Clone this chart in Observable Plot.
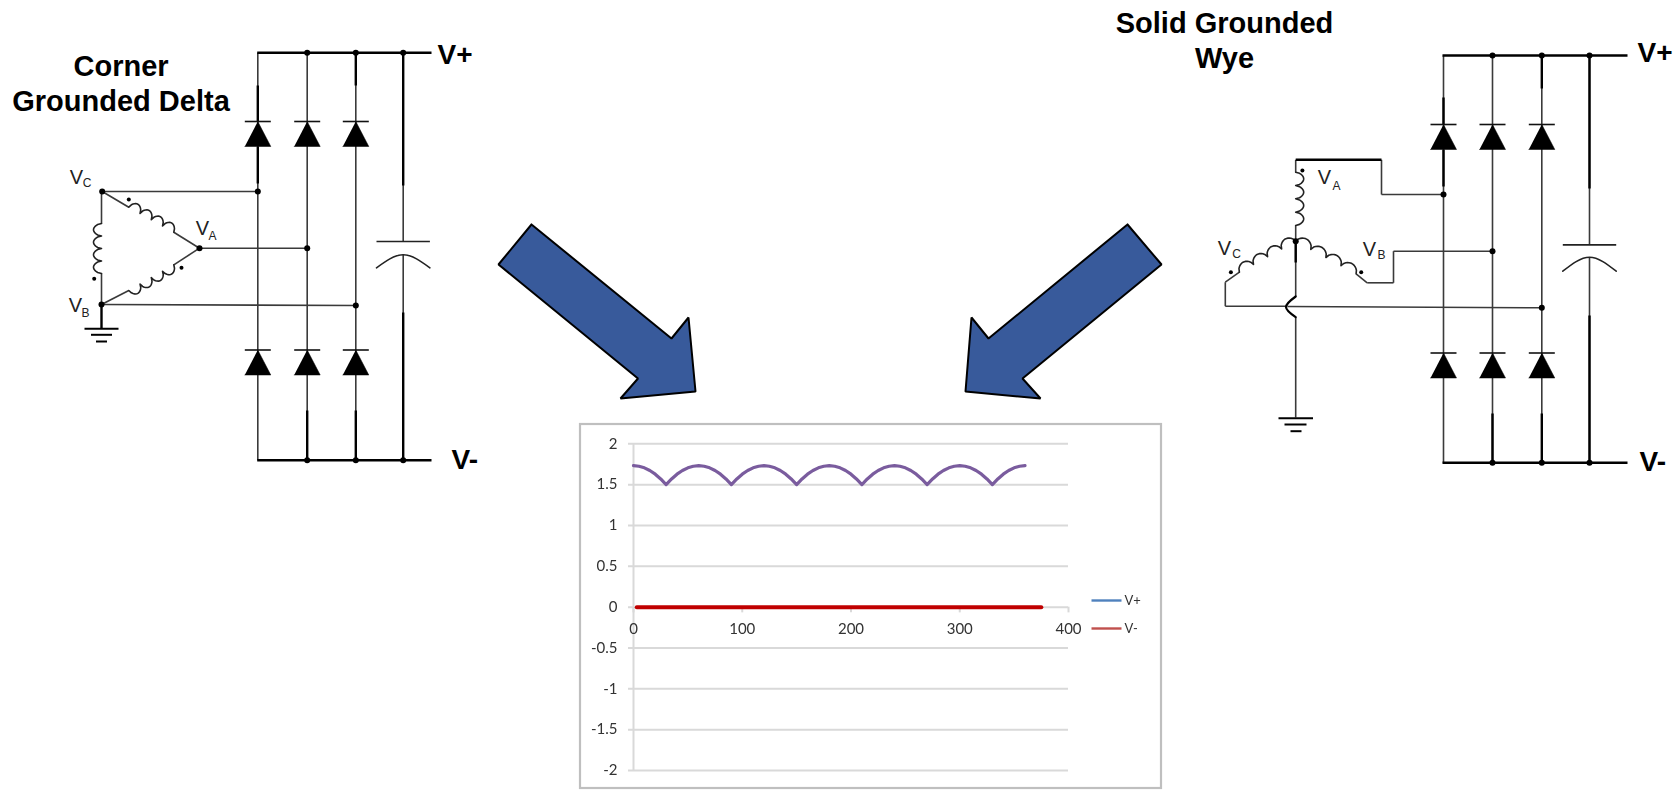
<!DOCTYPE html>
<html><head><meta charset="utf-8">
<script src="https://cdn.jsdelivr.net/npm/d3@7"></script>
<script src="https://cdn.jsdelivr.net/npm/@observablehq/plot@0.6"></script>
<style>
html,body{margin:0;padding:0;background:#fff;width:1675px;height:792px;overflow:hidden}
#page{position:relative;width:1675px;height:792px}
#page svg{position:absolute;left:0;top:0;background:transparent}
.soft{filter:blur(.55px)}
.faint{filter:blur(.3px)}
</style></head><body><div id="page"></div>
<script>
// ---------- chart values ----------
const xTicks = [0,100,200,300,400];
const yTicks = [-2,-1.5,-1,-0.5,0,0.5,1,1.5,2];
const angle = [0,5,10,15,20,25,30,35,40,45,50,55,60,65,70,75,80,85,90,95,100,105,110,115,120,125,130,135,140,145,150,155,160,165,170,175,180,185,190,195,200,205,210,215,220,225,230,235,240,245,250,255,260,265,270,275,280,285,290,295,300,305,310,315,320,325,330,335,340,345,350,355,360];
const vPeak = [1.732,1.725,1.706,1.673,1.628,1.57,1.5,1.57,1.628,1.673,1.706,1.725,1.732,1.725,1.706,1.673,1.628,1.57,1.5,1.57,1.628,1.673,1.706,1.725,1.732,1.725,1.706,1.673,1.628,1.57,1.5,1.57,1.628,1.673,1.706,1.725,1.732,1.725,1.706,1.673,1.628,1.57,1.5,1.57,1.628,1.673,1.706,1.725,1.732,1.725,1.706,1.673,1.628,1.57,1.5,1.57,1.628,1.673,1.706,1.725,1.732,1.725,1.706,1.673,1.628,1.57,1.5,1.57,1.628,1.673,1.706,1.725,1.732];
const vMinusX = [3,375];
const vMinusY = [0,0];
const legendNames = ["V+","V-"];
const legendColors = ["#4f81bd","#c0504d"];
const curveColor = "#7a5c9e", zeroColor = "#c00000", gridColor = "#d9d9d9";

// ---------- schematic geometry (page units) ----------
const thinWires = [
 // corner grounded delta
 [257.3,52.3,257.3,459.7],[306.7,52.3,306.7,459.7],[355.3,52.3,355.3,459.7],
 [402.7,52.3,402.7,241],[402.7,254.3,402.7,459.7],
 [101.7,191,257.3,191],[199,247.7,306.7,247.7],[101,304,355.3,305],
 [101,191,101,223],[101,273,101,304],
 [101.7,191,128.3,206.7],[173.3,231.7,199,247.7],[199,247.7,173.3,264.3],[128.3,290,101,304],
 // solid grounded wye
 [1443,55,1443,462.3],[1492,55,1492,462.3],[1541.3,55,1541.3,462.3],
 [1589,55,1589,244.3],[1589,256.7,1589,462.3],
 [1295.2,159.3,1295.2,171.7],[1295.2,225,1295.2,296],[1295.2,316.7,1295.2,417],
 [1381,159.3,1381,194],[1381,194,1443,194],
 [1238.9,271.7,1224.8,281.7],[1224.8,281.7,1224.8,305.7],[1224.8,305.7,1285,305.7],[1287,306,1541.3,307.3],
 [1355.6,273.3,1366.7,282.3],[1366.7,282.3,1393,282.3],[1393,282.3,1393,250.7],[1393,250.7,1492,250.7]
];
const boldWires = [
 [256.7,52.3,431,52.3],[256.7,459.7,431,459.7],
 [257.3,85,257.3,121],[257.3,146,257.3,183],[355.3,52.3,355.3,85],
 [306.7,410,306.7,459.7],[355.3,410,355.3,459.7],[402.7,52.3,402.7,185],[402.7,312,402.7,459.7],
 [101,304,101,328],
 [1442,55,1627,55],[1442,462.3,1627,462.3],
 [1443,97,1443,124],[1443,149,1443,186],[1541.3,55,1541.3,88],
 [1492,413,1492,462.3],[1541.3,413,1541.3,462.3],[1589,55,1589,188],[1589,315,1589,462.3],
 [1295.2,159.3,1381,159.3],[1295.2,240,1295.2,262]
];
const nodes = [[306.7,52.3],[355.3,52.3],[402.7,52.3],[306.7,459.7],[355.3,459.7],[402.7,459.7],
 [101.7,191],[257.3,191],[199,247.7],[306.7,247.7],[101,304],[355.3,305],
 [1492,55],[1541.3,55],[1589,55],[1492,462.3],[1541.3,462.3],[1589,462.3],
 [1443,194],[1492,250.7],[1541.3,307.3],[1295.2,240.7]];
const polarityDots = [[128.3,199],[181,267.3],[93.7,278.3],[1301.9,170],[1230.4,271.7],[1360.7,271.7]];
const diodeSpots = [[257.3,121],[306.7,121],[355.3,121],[257.3,349.5],[306.7,349.5],[355.3,349.5],
 [1443,124],[1492,124],[1541.3,124],[1443,352.5],[1492,352.5],[1541.3,352.5]];
const groundBars = [[84,118,328.3],[90.5,111.5,334.3],[95.5,106.5,341],
 [1278,1312.5,417.7],[1284,1306,424],[1290,1301,430.7]];
const capPlates = [[376,429.4,241],[1562.3,1615.7,244.3]];
const capArcs = [[[376,267.3],[402.7,254.3],[429.4,267.3]],[[1562.3,270.7],[1589,256.7],[1615.7,270.7]]];
const hopArc = [[1295.2,296],[1285.5,306.5],[1295.2,316.7]];
// [x1,y1,x2,y2,lobes,bulge]
const coils = [
 [101,223,101,273,4,-8],
 [128.3,206.7,173.3,231.7,4,7],
 [173.3,264.3,128.3,290,4,7],
 [1295.2,171.7,1295.2,225,4,8],
 [1295.2,240.7,1238.9,271.7,4,-7],
 [1295.2,240.7,1355.6,273.3,4,7]
];
const arrowLeft = [[531,224],[498,264],[637.5,378],[620,398],[695,391],[688,317],[671,338],[531,224]];
const arrowRight = [[1127,224],[1161,264],[1022,378],[1040,398],[965,391],[971,317],[988,338],[1127,224]];
const chartFrame = [[580,424,1161,788]];
const legendSwatches = [[1091,1121,600],[1091,1121,628]];
const legendLabels = [[1124,600],[1124,628]];

const titles = [["Corner",120.5,66],["Grounded Delta",120.5,101],["Solid Grounded",1224,23],["Wye",1224,58]];
const railLabels = [["V+",437,55],["V-",451,460],["V+",1637,53],["V-",1639,462]];
const phaseV = [[76,177],[202,228],[75,305],[1324,177],[1369,249],[1224,248]];
const phaseSub = [["C",86.5,183],["A",212,236],["B",85,313],["A",1336,186],["B",1381,255],["C",1236,254]];

// ---------- small helpers for drawn symbols ----------
const coilPts = coils.flatMap(([x1,y1,x2,y2,n,b],id) => {
  const dx=x2-x1, dy=y2-y1, L=Math.hypot(dx,dy), nx=dy/L, ny=-dx/L, pts=[];
  for (let k=0;k<n;k++) for (let j=0;j<=12;j++) {
    const t=(k+j/12)/n, h=b*Math.pow(Math.sin(Math.PI*j/12),.55);
    pts.push({id,x:x1+dx*t+nx*h,y:y1+dy*t+ny*h});
  }
  return pts;
});
const diodePts = diodeSpots.flatMap(([x,y],id)=>[[x,y],[x+13,y+25],[x-13,y+25]].map(p=>({id,x:p[0],y:p[1]})));
const W=1675,H=792;
const seg=(a,o)=>Plot.link(a,{x1:d=>d[0],y1:d=>d[1],x2:d=>d[2],y2:d=>d[3],...o});
const px=d=>d[0], py=d=>d[1];
const arial='"Liberation Sans",Arial,sans-serif';

// ---------- schematic layer ----------
const schematic = Plot.plot({
  width:W,height:H,margin:0,
  x:{domain:[0,W],range:[0,W],axis:null},
  y:{domain:[0,H],range:[0,H],axis:null},
  marks:[
    Plot.rect(chartFrame,{x1:d=>d[0],y1:d=>d[1],x2:d=>d[2],y2:d=>d[3],fill:"#fff",stroke:"#bfbfbf",strokeWidth:2.2,className:"soft"}),
    Plot.line(arrowLeft,{x:px,y:py,fill:"#385a9b",stroke:"#000",strokeWidth:2,strokeLinejoin:"miter"}),
    Plot.line(arrowRight,{x:px,y:py,fill:"#385a9b",stroke:"#000",strokeWidth:2,strokeLinejoin:"miter"}),
    seg(thinWires,{stroke:"#3a3a3a",strokeWidth:1.6,className:"faint"}),
    seg(boldWires,{stroke:"#000",strokeWidth:2.4,className:"faint"}),
    seg(groundBars.map(d=>[d[0],d[2],d[1],d[2]]),{stroke:"#000",strokeWidth:2}),
    seg(capPlates.map(d=>[d[0],d[2],d[1],d[2]]),{stroke:"#222",strokeWidth:1.7}),
    ...capArcs.map(a=>Plot.line(a,{x:px,y:py,curve:"natural",stroke:"#222",strokeWidth:1.6})),
    Plot.line(hopArc,{x:px,y:py,curve:"natural",stroke:"#000",strokeWidth:2.2}),
    Plot.line(coilPts,{x:"x",y:"y",z:"id",stroke:"#222",strokeWidth:1.6,fill:"none"}),
    Plot.line(diodePts,{x:"x",y:"y",z:"id",fill:"#000",stroke:"#000",strokeWidth:.5}),
    seg(diodeSpots.map(d=>[d[0]-13,d[1],d[0]+13,d[1]]),{stroke:"#111",strokeWidth:1.6}),
    Plot.dot(nodes,{x:px,y:py,r:3,fill:"#000"}),
    Plot.dot(polarityDots,{x:px,y:py,r:2,fill:"#000"}),
    Plot.text(titles,{text:d=>d[0],x:d=>d[1],y:d=>d[2],fontFamily:arial,fontWeight:700,fontSize:29,fill:"#000"}),
    Plot.text(railLabels,{text:d=>d[0],x:d=>d[1],y:d=>d[2],textAnchor:"start",fontFamily:arial,fontWeight:700,fontSize:28,fill:"#000"}),
    Plot.text(phaseV,{text:()=>"V",x:px,y:py,fontFamily:arial,fontSize:20,fill:"#222"}),
    Plot.text(phaseSub,{text:d=>d[0],x:d=>d[1],y:d=>d[2],fontFamily:arial,fontSize:12,fill:"#222"}),
    seg(legendSwatches.map((d,i)=>[d[0],d[2],d[1],d[2],legendColors[i]]),{stroke:d=>d[4],strokeWidth:2.4,className:"soft"}),
    Plot.text(legendLabels,{text:(d,i)=>legendNames[i],x:px,y:py,textAnchor:"start",fontFamily:"Lato",fontSize:13,fill:"#333",className:"soft"})
  ]
});
schematic.style.background="transparent";

// ---------- the chart ----------
const chart = Plot.plot({
  width:W,height:H,
  marginLeft:633,marginRight:W-1068,marginTop:443.3,marginBottom:H-770,
  x:{domain:[0,400],axis:null},
  y:{domain:[-2,2],axis:null},
  className:"soft",
  marks:[
    Plot.ruleY(yTicks,{x1:-4.6,x2:400,stroke:gridColor,strokeWidth:2}),
    Plot.ruleX([0],{y1:-2,y2:2,stroke:gridColor,strokeWidth:2}),
    Plot.ruleX(xTicks,{y1:0,y2:-0.07,stroke:gridColor,strokeWidth:2}),
    Plot.text(yTicks,{x:0,y:d=>d,text:d=>String(d),dx:-16,textAnchor:"end",fontFamily:"Lato",fontSize:15,fill:"#333"}),
    Plot.text(xTicks,{x:d=>d,y:0,text:d=>String(d),dy:22,fontFamily:"Lato",fontSize:15,fill:"#333"}),
    Plot.line(vMinusX.map((x,i)=>({x,y:vMinusY[i]})),{x:"x",y:"y",stroke:zeroColor,strokeWidth:4}),
    Plot.line(angle.map((x,i)=>({x,y:vPeak[i]})),{x:"x",y:"y",stroke:curveColor,strokeWidth:3.2})
  ]
});
chart.style.background="transparent";
const page=document.getElementById("page");
page.append(schematic,chart);
</script></body></html>
